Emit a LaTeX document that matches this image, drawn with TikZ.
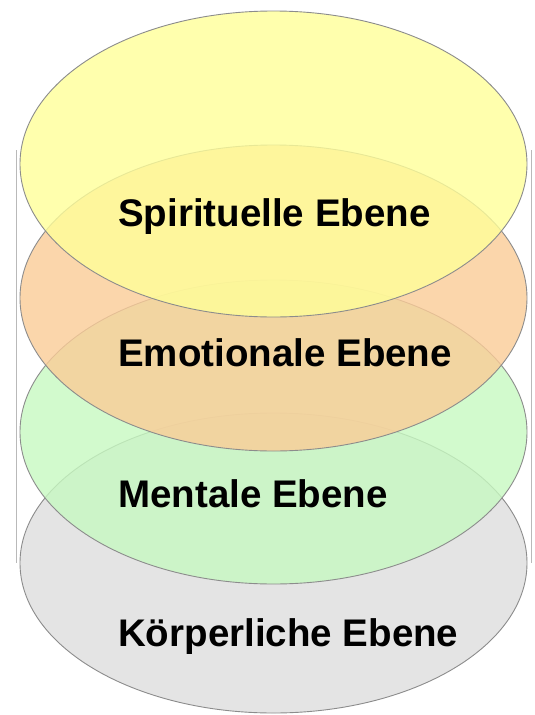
\documentclass[tikz,border=0pt]{standalone}
\usepackage{fontspec}
\setmainfont{Liberation Sans}
\usetikzlibrary{shapes.geometric}
\definecolor{cylline}{RGB}{185,185,185}
\definecolor{rimcol}{RGB}{140,140,140}
\definecolor{lyellow}{RGB}{255,255,153}
\definecolor{lorange}{RGB}{251,204,151}
\definecolor{lgreen}{RGB}{199,249,193}
\definecolor{lgray}{RGB}{222,222,222}
\tikzset{
  layer/.style={ellipse, draw=rimcol, line width=0.9pt, fill opacity=0.8,
    inner sep=0pt, minimum width=507pt},
  label/.style={anchor=base west, inner sep=0pt, text=black,
    font=\fontsize{38.5}{40}\selectfont\bfseries},
  cylside/.style={draw=cylline, line width=1pt}
}
\begin{document}
\begin{tikzpicture}[x=1pt,y=-1pt]
\useasboundingbox (0,0) rectangle (535,715);
\fill[white] (0,0) rectangle (535,715);
% cylinder sides
\coordinate (lt) at (16,150);
\coordinate (lb) at (16,563);
\coordinate (rt) at (531,150);
\coordinate (rb) at (531,563);
\draw[cylside] (lt) -- (lb);
\draw[cylside] (rt) -- (rb);
% layers, bottom first
\node[layer, fill=lgray,   minimum height=300pt] (koerper)  at (273.5,563) {};
\node[layer, fill=lgreen,  minimum height=304pt] (mental)   at (273.5,432) {};
\node[layer, fill=lorange, minimum height=306pt] (emotion)  at (273.5,298) {};
\node[layer, fill=lyellow, minimum height=306pt] (spirit)   at (273.5,164) {};
% labels
\node[label] (tspirit)  at (118,226) {Spirituelle Ebene};
\node[label] (temotion) at (118,366) {Emotionale Ebene};
\node[label] (tmental)  at (118,507) {Mentale Ebene};
\node[label] (tkoerper) at (118,646) {Körperliche Ebene};
\end{tikzpicture}
\end{document}
